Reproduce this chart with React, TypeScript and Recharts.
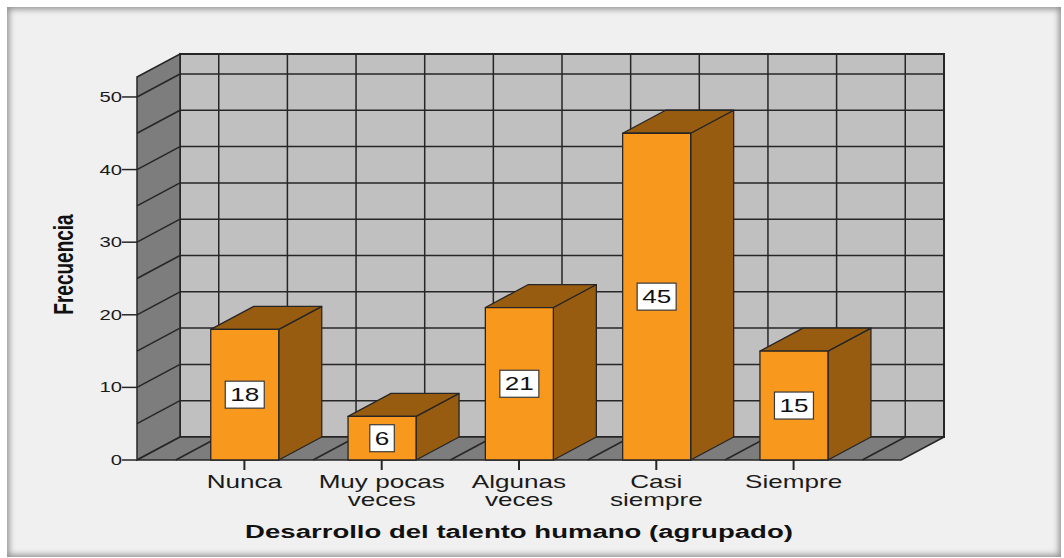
import { BarChart, Bar, XAxis, YAxis, ReferenceArea, ReferenceLine, LabelList } from 'recharts'

// categories, split the way they wrap under the axis
const CATEGORY_LINES = [
  ['Nunca'],
  ['Muy pocas', 'veces'],
  ['Algunas', 'veces'],
  ['Casi', 'siempre'],
  ['Siempre'],
]
const CATEGORIES = CATEGORY_LINES.map(l => l.join(' '))
const FRECUENCIA = [18, 6, 21, 45, 15]
const Y_TICKS = [0, 10, 20, 30, 40, 50]
const GRID_VALUES = [5, 10, 15, 20, 25, 30, 35, 40, 45, 50]
const Y_MAX = 52.75

const data = CATEGORIES.map((name, i) => ({ name, value: FRECUENCIA[i] }))

// vertical grid lines sit on band edges and band centres
const GRID_X = [
  ...CATEGORIES.flatMap(c => [
    { cat: c, pos: 'start' as const },
    { cat: c, pos: 'middle' as const },
  ]),
  { cat: CATEGORIES[CATEGORIES.length - 1], pos: 'end' as const },
]

const DX = 43
const DY = 23
const PAD = 38.75
const SX = 1.45
const FONT = '"Liberation Sans", Arial, sans-serif'
const LINE = '#262626'
const WALL_BACK = '#c0c0c0'
const WALL_SIDE = '#7d7d7d'
const BAR_FRONT = '#f8991d'
const BAR_SHADE = '#985c11'

function Walls(props: any) {
  const { x, y, width, height } = props
  const left = x - PAD
  const right = x + width + PAD
  const top = y
  const bottom = y + height
  return (
    <g>
      <rect x={left + DX} y={top - DY} width={right - left} height={height}
        fill={WALL_BACK} stroke={LINE} strokeWidth={2} />
      <polygon
        points={`${left},${top} ${left + DX},${top - DY} ${left + DX},${bottom - DY} ${left},${bottom}`}
        fill={WALL_SIDE} stroke={LINE} strokeWidth={1.5} />
      <polygon
        points={`${left},${bottom} ${right},${bottom} ${right + DX},${bottom - DY} ${left + DX},${bottom - DY}`}
        fill={WALL_SIDE} stroke={LINE} strokeWidth={1.5} />
    </g>
  )
}

function HGrid(props: any) {
  const { x1, x2, y1 } = props
  const l = Math.min(x1, x2)
  const r = Math.max(x1, x2)
  return (
    <g stroke={LINE} strokeWidth={1.5}>
      <line x1={l + DX} y1={y1 - DY} x2={r + DX} y2={y1 - DY} />
      <line x1={l} y1={y1} x2={l + DX} y2={y1 - DY} />
    </g>
  )
}

function VGrid(props: any) {
  const { x1, y1, y2 } = props
  const t = Math.min(y1, y2)
  const b = Math.max(y1, y2)
  return (
    <g stroke={LINE} strokeWidth={1.5}>
      <line x1={x1 + DX} y1={t - DY} x2={x1 + DX} y2={b - DY} />
      <line x1={x1} y1={b} x2={x1 + DX} y2={b - DY} />
    </g>
  )
}

function Box3D(props: any) {
  const { x, y, width, height } = props
  if (!height) return null
  const r = x + width
  const b = y + height
  return (
    <g stroke={LINE} strokeWidth={1.3} strokeLinejoin="round">
      <polygon points={`${r},${y} ${r + DX},${y - DY} ${r + DX},${b - DY} ${r},${b}`} fill={BAR_SHADE} />
      <polygon points={`${x},${y} ${x + DX},${y - DY} ${r + DX},${y - DY} ${r},${y}`} fill={BAR_SHADE} />
      <rect x={x} y={y} width={width} height={height} fill={BAR_FRONT} />
    </g>
  )
}

function ValueBadge(props: any) {
  const vb = props.viewBox ?? props
  const { x, y, width, height } = vb
  const cx = x + width / 2
  const cy = y + height / 2
  const w = String(props.value).length * 14.5 + 10
  return (
    <g>
      <rect x={cx - w / 2} y={cy - 13.5} width={w} height={27} fill="#fff" stroke="#3a3a3a" strokeWidth={1.2} />
      <text transform={`translate(${cx},${cy}) scale(${SX},1)`} textAnchor="middle" dy="0.36em"
        fontSize={18} fontFamily={FONT} fill="#111">
        {props.value}
      </text>
    </g>
  )
}

function CategoryTick(props: any) {
  const { x, y, payload } = props
  const idx = CATEGORIES.indexOf(payload.value)
  const lines = idx >= 0 ? CATEGORY_LINES[idx] : [String(payload.value)]
  return (
    <g>
      {lines.map((l, i) => (
        <text key={i} transform={`translate(${x},${y + 16 + i * 18}) scale(${SX},1)`}
          textAnchor="middle" fontSize={18} fontFamily={FONT} fill="#1a1a1a">
          {l}
        </text>
      ))}
    </g>
  )
}

function ValueTick(props: any) {
  const { x, y, payload } = props
  return (
    <text transform={`translate(${x},${y}) scale(${SX},1)`} textAnchor="end" dy="0.36em"
      fontSize={14} fontFamily={FONT} fill="#1a1a1a">
      {payload.value}
    </text>
  )
}

function XTitle(props: any) {
  const { x, y, width } = props.viewBox
  return (
    <text transform={`translate(${x + width / 2},${y + 78}) scale(${SX},1)`} textAnchor="middle"
      fontSize={19} fontWeight="bold" fontFamily={FONT} fill="#111">
      Desarrollo del talento humano (agrupado)
    </text>
  )
}

function YTitle(props: any) {
  const { x, y, height } = props.viewBox
  return (
    <text transform={`translate(${x - 4},${y + height / 2 - 4}) rotate(-90) scale(1,${SX})`}
      textAnchor="middle" fontSize={19} fontWeight="bold" fontFamily={FONT} fill="#111">
      Frecuencia
    </text>
  )
}

export default function App() {
  return (
    <div style={{ position: 'absolute', left: 0, top: 0, width: 1064, height: 558, background: '#fff' }}>
      <div style={{
        position: 'absolute', left: 7, top: 7, width: 1054, height: 550,
        background: '#f0f0f0', boxShadow: 'inset 0 0 6px 2px #8c8c8c',
      }} />
      <div style={{ position: 'absolute', left: 0, top: 0 }}>
        <BarChart width={1064} height={558} data={data}
          margin={{ top: 77, right: 163, bottom: 68, left: 77 }}>
          <ReferenceArea y1={0} y2={Y_MAX} shape={Walls} zIndex={-90} />
          {GRID_VALUES.map(v => (
            <ReferenceLine key={`h${v}`} y={v} shape={HGrid} zIndex={-80} />
          ))}
          {GRID_X.map(g => (
            <ReferenceLine key={`v${g.cat}${g.pos}`} x={g.cat} position={g.pos} shape={VGrid} zIndex={-80} />
          ))}
          <XAxis dataKey="name" height={30} padding={{ left: PAD, right: PAD }}
            axisLine={false} tickSize={10} tickLine={{ stroke: LINE, strokeWidth: 2 }}
            tick={<CategoryTick />} interval={0} label={<XTitle />} />
          <YAxis width={60} domain={[0, Y_MAX]} ticks={Y_TICKS} axisLine={false}
            tickSize={15} tickMargin={0} tickLine={{ stroke: LINE, strokeWidth: 1.5 }}
            tick={<ValueTick />} label={<YTitle />} />
          <Bar dataKey="value" barSize={68} shape={Box3D} isAnimationActive={false}>
            <LabelList dataKey="value" content={<ValueBadge />} />
          </Bar>
        </BarChart>
      </div>
    </div>
  )
}
